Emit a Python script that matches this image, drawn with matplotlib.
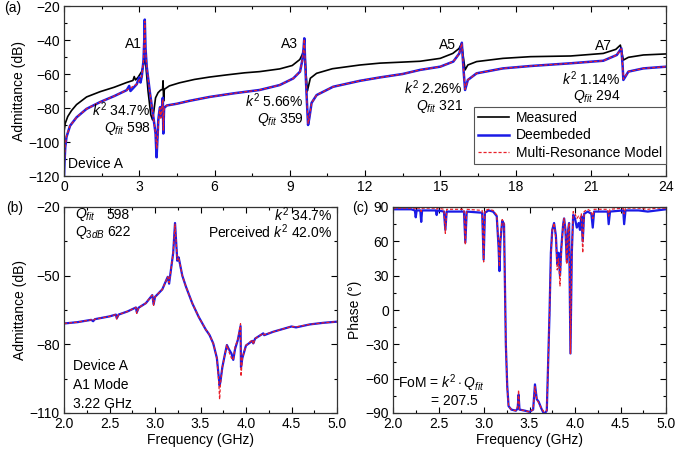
import matplotlib
matplotlib.use("Agg")
import matplotlib.pyplot as plt
from matplotlib.ticker import MultipleLocator

plt.rcParams['font.family'] = ['Liberation Sans', 'DejaVu Sans']
plt.rcParams['mathtext.fontset'] = 'custom'
plt.rcParams['mathtext.rm'] = 'Liberation Sans'
plt.rcParams['mathtext.it'] = 'Liberation Sans:italic'
plt.rcParams['mathtext.bf'] = 'Liberation Sans:bold'
plt.rcParams['font.size'] = 10

# ---------------- Panel (a) data: wide-band admittance (dB) ----------------
meas_f = [0.0, 0.05, 0.15, 0.3, 0.5, 0.9, 1.44, 2.0, 2.5, 2.75, 2.8, 2.85, 2.95, 3.1, 3.18, 3.23,
          3.28, 3.35, 3.46, 3.53, 3.58, 3.65, 3.75, 3.85, 3.93, 3.95, 3.97, 4.0, 4.2, 4.6, 5.2,
          5.8, 6.5, 7.2, 7.8, 8.6, 9.1, 9.4, 9.5, 9.56, 9.6, 9.65, 9.7, 9.75, 9.82, 10.07, 10.7,
          11.8, 12.6, 13.5, 14.2, 15.0, 15.5, 15.75, 15.85, 15.92, 15.99, 16.1, 16.45, 17.5,
          18.6, 20.2, 21.5, 22.0, 22.18, 22.25, 22.3, 22.5, 23.1, 24.0]
meas_y = [-94, -89, -85, -81.5, -78, -73.5, -70.4, -67.8, -65, -63.8, -61.5, -63.5, -62, -58.5, -54, -49,
          -58, -70, -84, -87, -82, -74, -71, -69.5, -69, -64, -76, -69, -67, -65.2, -63.2,
          -61.8, -60.5, -59.3, -58.6, -57, -55, -51.5, -48.5, -46, -47.5, -60, -70, -67, -62.5, -59.6, -56.9,
          -54.7, -53.6, -53, -52.5, -50.8, -47.9, -45, -42, -50, -57.6, -54.7, -52.7, -50.8,
          -49.8, -49.4, -47.9, -45.5, -43, -48, -51.8, -50.2, -48.8, -48.2]

deemb_f = [0.0, 0.02, 0.05, 0.1, 0.24, 0.5, 0.9, 1.44, 2.0, 2.5, 2.6, 2.65, 2.9, 3.0, 3.05, 3.1, 3.17,
           3.2, 3.22, 3.25, 3.3, 3.43, 3.56, 3.65, 3.69, 3.73, 3.76, 3.8, 3.83, 3.87, 3.9, 3.94, 3.96,
           3.99, 4.1, 4.5, 5.0, 5.8, 6.8, 7.8, 8.6, 9.14, 9.41, 9.5, 9.55, 9.58, 9.62, 9.68, 9.73,
           9.78, 9.87, 10.07, 10.73, 11.8, 12.6, 13.5, 14.19, 15.0, 15.52, 15.76, 15.86, 15.93,
           15.99, 16.1, 16.45, 17.5, 18.6, 20.2, 21.5, 22.04, 22.22, 22.27, 22.3, 22.5, 23.1, 24.0]
deemb_y = [-120, -112, -103, -97, -90.5, -85.5, -80.5, -76.5, -73, -69.5, -67, -70, -66, -62, -65, -61.5, -52,
           -40, -28, -45, -56, -71.5, -85, -95, -109, -97, -87, -82, -79.5, -85, -81, -74, -95,
           -80, -78.5, -77.5, -75.8, -73.5, -71.3, -69.4, -66.5, -62.6, -58.6, -52, -45, -39, -55, -75, -90,
           -86, -77, -72.4, -67.5, -64, -62, -60, -57.6, -55.7, -52.7, -47.9, -41.6, -58,
           -69.4, -63.5, -59.6, -56.7, -55.3, -53.7, -52.2, -48.8, -44.9, -55, -63.5, -58.6, -56.7, -55.7]

model_f = [0.0, 0.02, 0.05, 0.1, 0.24, 0.5, 0.9, 1.44, 2.0, 2.5, 2.9, 3.1, 3.17,
           3.2, 3.22, 3.25, 3.3, 3.43, 3.56, 3.65, 3.7, 3.74, 3.78, 3.82, 3.86, 3.9, 3.94, 3.96,
           3.99, 4.1, 4.5, 5.0, 5.8, 6.8, 7.8, 8.6, 9.14, 9.41, 9.5, 9.55, 9.58, 9.62, 9.68, 9.73,
           9.78, 9.87, 10.07, 10.73, 11.8, 12.6, 13.5, 14.19, 15.0, 15.52, 15.76, 15.86, 15.93,
           15.99, 16.1, 16.45, 17.5, 18.6, 20.2, 21.5, 22.04, 22.22, 22.27, 22.3, 22.5, 23.1, 24.0]
model_y = [-118, -111, -102, -96.5, -90.5, -85.5, -80.5, -76.5, -73, -69.5, -66, -61.5, -52,
           -40, -29, -45, -56, -71.5, -85, -95, -104, -95, -85, -80, -86, -80, -75, -93,
           -80, -78.5, -77.5, -75.8, -73.5, -71.3, -69.4, -66.5, -62.6, -58.6, -52, -45, -39.5, -55, -75, -89,
           -86, -77, -72.4, -67.5, -64, -62, -60, -57.6, -55.7, -52.7, -47.9, -42, -58,
           -69, -63.5, -59.6, -56.7, -55.3, -53.7, -52.2, -48.8, -45.2, -55, -63, -58.6, -56.7, -55.7]

# ---------------- Panel (b) data: A1 mode zoom, admittance (dB) ----------------
b_f = [2.0, 2.15, 2.3, 2.32, 2.34, 2.5, 2.57, 2.58, 2.6, 2.7, 2.79, 2.8, 2.82, 2.9, 2.97, 2.985, 3.0,
       3.08, 3.14, 3.155, 3.17, 3.2, 3.22, 3.235, 3.245, 3.26, 3.3, 3.34, 3.41, 3.48, 3.56, 3.58,
       3.6, 3.64, 3.68, 3.7, 3.71, 3.72, 3.74, 3.77, 3.79, 3.81, 3.84, 3.86, 3.88, 3.91, 3.94, 3.945,
       3.96, 4.0, 4.07, 4.08, 4.1, 4.19, 4.2, 4.3, 4.37, 4.5, 4.55, 4.7, 4.85, 5.0]
b_deemb = [-70.9, -70.3, -69.3, -69.9, -69.0, -67.8, -67.0, -68.6, -67.0, -65.6, -63.9, -66.0, -64.0, -62.0, -58.5, -62.5, -59.3,
           -56.0, -50.5, -53.5, -49.0, -40.0, -27.0, -37.0, -43.5, -42.0, -50.0, -54.8, -62.1, -68.0, -73.7, -74.8,
           -76.0, -79.6, -86.0, -94.0, -98.0, -96.0, -90.0, -84.0, -80.3, -82.0, -84.0, -86.8, -82.0, -78.1, -72.0, -90.0,
           -86.0, -80.5, -78.5, -79.6, -77.5, -75.2, -76.0, -74.5, -73.7, -72.2, -72.6, -71.3, -70.6, -70.1]
b_model = [-70.9, -70.3, -69.3, -69.6, -69.0, -67.8, -67.0, -69.0, -67.0, -65.6, -63.9, -66.5, -64.0, -62.0, -58.5, -63.0, -59.3,
           -56.0, -50.5, -53.0, -49.0, -40.0, -27.5, -37.0, -43.0, -42.0, -50.0, -54.8, -62.1, -68.0, -73.7, -74.5,
           -76.0, -79.6, -86.0, -96.0, -104.0, -97.0, -90.0, -84.0, -80.3, -83.0, -86.0, -86.8, -81.0, -78.1, -71.0, -94.0,
           -86.0, -80.5, -78.0, -80.0, -77.5, -75.2, -75.8, -74.5, -73.7, -72.2, -72.4, -71.3, -70.6, -70.1]
b_yticks = [-110, -80, -50, -20]

# ---------------- Panel (c) data: phase (deg) ----------------
c_f = [2.0, 2.2, 2.24, 2.25, 2.26, 2.3, 2.31, 2.32, 2.47, 2.48, 2.49, 2.56, 2.575, 2.59, 2.78, 2.795,
       2.81, 2.98, 2.996, 3.01, 3.05, 3.1, 3.14, 3.16, 3.17, 3.18, 3.2, 3.22, 3.24, 3.255, 3.27, 3.3,
       3.35, 3.37, 3.38, 3.39, 3.45, 3.5, 3.54, 3.56, 3.58, 3.6, 3.63, 3.66, 3.69, 3.7, 3.72, 3.735,
       3.75, 3.77, 3.79, 3.805, 3.82, 3.835, 3.85, 3.87, 3.88, 3.895, 3.91, 3.925, 3.935, 3.95, 3.965,
       3.98, 4.0, 4.02, 4.04, 4.055, 4.07, 4.085, 4.1, 4.14, 4.18, 4.195, 4.21, 4.36, 4.37, 4.385,
       4.53, 4.54, 4.555, 4.7, 4.8, 4.9, 5.0]
c_deemb = [88, 88, 87, 81, 87, 87, 77, 87, 87, 83, 87, 86, 70, 86, 86, 59,
           86, 85, 44, 85, 87, 86, 82, 55, 34, 60, 78, 75, -30, -66, -84, -87,
           -88, -86, -74, -87, -88, -89, -87, -65, -78, -80, -86, -91, -88, -60, -3, 50,
           70, 76, 65, 40, 50, 30, 55, 75, 80, 70, 42, 70, 76, -38, 50,
           83, 80, 72, 76, 70, 82, 60, 84, 86, 84, 72, 86, 86, 75, 86,
           87, 75, 87, 87, 86, 87, 88]
c_model = [89, 89, 89, 88, 89, 89, 86, 89, 89, 88, 89, 88, 67, 88, 88, 57,
           88, 87, 42, 87, 88, 87, 83, 58, 38, 62, 79, 76, -30, -68, -84, -87,
           -88, -84, -70, -87, -88, -89, -87, -67, -78, -81, -86, -89, -88, -62, -5, 48,
           70, 76, 62, 35, 45, 21, 52, 75, 80, 70, 40, 70, 76, -38, 50,
           86, 84, 80, 82, 80, 84, 50, 86, 88, 86, 80, 88, 88, 82, 88,
           89, 84, 89, 89, 88, 89, 89]

x_ticks_bc = [2.0, 2.5, 3.0, 3.5, 4.0, 4.5, 5.0]
x_ticklabels_bc = ['2.0', '2.5', '3.0', '3.5', '4.0', '4.5', '5.0']

BLUE = '#1a1ae6'
RED = '#e8202a'

fig = plt.figure(figsize=(6.99, 4.58), dpi=100)
W, H = 699.0, 458.0

def ax_px(l, t, r, b):
    return fig.add_axes([l / W, 1 - b / H, (r - l) / W, (b - t) / H])

def style(ax):
    ax.tick_params(which='both', direction='in', top=True, right=True, labelsize=10, pad=3)
    ax.tick_params(which='major', length=4, width=0.8)
    ax.tick_params(which='minor', length=2, width=0.8)
    for s in ax.spines.values():
        s.set_linewidth(0.9)
        s.set_color('#333333')

# ---------------- (a) ----------------
axa = ax_px(64, 6, 666, 176)
axa.plot(meas_f, meas_y, color='black', lw=1.2, label='Measured')
axa.plot(deemb_f, deemb_y, color=BLUE, lw=1.8, label='Deembeded')
axa.plot(model_f, model_y, color=RED, lw=0.9, ls=(0, (2.5, 1.5)), label='Multi-Resonance Model')
axa.set_xlim(0, 24)
axa.set_ylim(-120, -20)
axa.xaxis.set_major_locator(MultipleLocator(3))
axa.xaxis.set_minor_locator(MultipleLocator(1.5))
axa.yaxis.set_major_locator(MultipleLocator(20))
axa.yaxis.set_minor_locator(MultipleLocator(10))
axa.set_ylabel('Admittance (dB)', labelpad=2)
style(axa)
leg = axa.legend(loc='lower right', bbox_to_anchor=(1.0, 0.07), borderaxespad=0, fancybox=False,
                 edgecolor='#555555', framealpha=1, fontsize=10, handlelength=2.2,
                 labelspacing=0.25, borderpad=0.3, handletextpad=0.5)
leg.get_frame().set_linewidth(0.8)

axa.text(2.75, -42.5, 'A1', ha='center', va='center')
axa.text(9.0, -42.5, 'A3', ha='center', va='center')
axa.text(15.3, -43, 'A5', ha='center', va='center')
axa.text(21.5, -43.5, 'A7', ha='center', va='center')
axa.text(3.45, -81, r'$k^2$ 34.7%', ha='right', va='center')
axa.text(3.45, -92, r'$Q_{fit}$ 598', ha='right', va='center')
axa.text(9.55, -75.5, r'$k^2$ 5.66%', ha='right', va='center')
axa.text(9.55, -86.5, r'$Q_{fit}$ 359', ha='right', va='center')
axa.text(15.9, -68, r'$k^2$ 2.26%', ha='right', va='center')
axa.text(15.9, -79, r'$Q_{fit}$ 321', ha='right', va='center')
axa.text(22.2, -63, r'$k^2$ 1.14%', ha='right', va='center')
axa.text(22.2, -73.5, r'$Q_{fit}$ 294', ha='right', va='center')
axa.text(0.17, -113, 'Device A', ha='left', va='center')
fig.text(4 / W, 1 - 8 / H, '(a)', ha='left', va='center', fontsize=10)

# ---------------- (b) ----------------
axb = ax_px(64, 207, 337, 413)
axb.plot(b_f, b_deemb, color=BLUE, lw=1.6)
axb.plot(b_f, b_model, color=RED, lw=0.9, ls=(0, (2.5, 1.5)))
axb.set_xlim(2.0, 5.0)
axb.set_ylim(-110, -20)
axb.set_xticks(x_ticks_bc)
axb.set_xticklabels(x_ticklabels_bc)
axb.xaxis.set_minor_locator(MultipleLocator(0.25))
axb.set_yticks(b_yticks)
axb.set_yticks([-95, -65, -35], minor=True)
axb.set_xlabel('Frequency (GHz)', labelpad=1)
axb.set_ylabel('Admittance (dB)', labelpad=2)
style(axb)
axb.text(2.12, -23.3, r'$Q_{fit}$', ha='left', va='center')
axb.text(2.47, -23.3, '598', ha='left', va='center')
axb.text(2.12, -31.0, r'$Q_{3dB}$', ha='left', va='center')
axb.text(2.47, -31.0, '622', ha='left', va='center')
axb.text(4.95, -23.3, r'$k^2$ 34.7%', ha='right', va='center')
axb.text(4.95, -31.0, r'Perceived $k^2$ 42.0%', ha='right', va='center')
axb.text(2.1, -89.5, 'Device A', ha='left', va='center')
axb.text(2.1, -97.8, 'A1 Mode', ha='left', va='center')
axb.text(2.1, -106, '3.22 GHz', ha='left', va='center')
fig.text(6 / W, 1 - 208 / H, '(b)', ha='left', va='center', fontsize=10)

# ---------------- (c) ----------------
axc = ax_px(393, 207, 666, 413)
axc.plot(c_f, c_deemb, color=BLUE, lw=1.6)
axc.plot(c_f, c_model, color=RED, lw=0.9, ls=(0, (2.5, 1.5)))
axc.set_xlim(2.0, 5.0)
axc.set_ylim(-90, 90)
axc.set_xticks(x_ticks_bc)
axc.set_xticklabels(x_ticklabels_bc)
axc.xaxis.set_minor_locator(MultipleLocator(0.25))
axc.yaxis.set_major_locator(MultipleLocator(30))
axc.yaxis.set_minor_locator(MultipleLocator(15))
axc.set_xlabel('Frequency (GHz)', labelpad=1)
axc.set_ylabel('Phase (\u00b0)', labelpad=2)
style(axc)
axc.text(2.05, -64, r'FoM = $k^2\cdot Q_{fit}$', ha='left', va='center')
axc.text(2.42, -79.5, '= 207.5', ha='left', va='center')
fig.text(352 / W, 1 - 208 / H, '(c)', ha='left', va='center', fontsize=10)

fig.savefig('out.png', dpi=100)
